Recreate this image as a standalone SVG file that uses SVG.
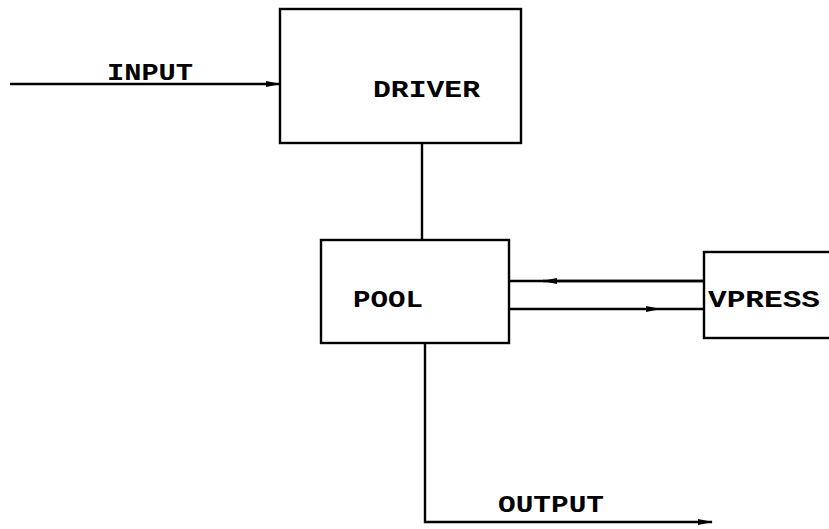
<svg xmlns="http://www.w3.org/2000/svg" width="829" height="529" viewBox="0 0 829 529">
<style>
.box{fill:none;stroke:#000;stroke-width:2.4}
.ln{fill:none;stroke:#000;stroke-width:2.4}
.t{font-family:"Liberation Mono","Courier New",monospace;font-size:23px;font-weight:bold;fill:#000}
</style>
<defs>
<marker id="ah" markerWidth="15" markerHeight="8" refX="14" refY="4" orient="auto" markerUnits="userSpaceOnUse">
<path d="M0,1 L15,4 L0,7 Z" fill="#000"/>
</marker>
</defs>
<rect width="829" height="529" fill="#fff"/>
<g id="connectors">
<line class="ln" x1="10" y1="84" x2="280" y2="84" marker-end="url(#ah)"/>
<text class="t" x="107" y="80" textLength="86" lengthAdjust="spacingAndGlyphs">INPUT</text>
<line class="ln" x1="422" y1="143" x2="422" y2="240"/>
<line class="ln" x1="704" y1="281" x2="509" y2="281"/>
<line class="ln" x1="704" y1="281" x2="543" y2="281" marker-end="url(#ah)"/>
<line class="ln" x1="509" y1="309" x2="660" y2="309" marker-end="url(#ah)"/>
<line class="ln" x1="660" y1="309" x2="704" y2="309"/>
<path class="ln" d="M425,343 L425,522 L712,522" marker-end="url(#ah)"/>
<text class="t" x="498" y="512" textLength="106" lengthAdjust="spacingAndGlyphs">OUTPUT</text>
</g>
<g id="driver">
<rect class="box" x="280" y="9" width="241" height="134"/>
<text class="t" x="373" y="97" textLength="107" lengthAdjust="spacingAndGlyphs">DRIVER</text>
</g>
<g id="pool">
<rect class="box" x="321" y="240" width="188" height="103"/>
<text class="t" x="353" y="307" textLength="70" lengthAdjust="spacingAndGlyphs">POOL</text>
</g>
<g id="vpress">
<rect class="box" x="704" y="252" width="140" height="86"/>
<text class="t" x="708" y="307" textLength="112" lengthAdjust="spacingAndGlyphs">VPRESS</text>
</g>
</svg>
